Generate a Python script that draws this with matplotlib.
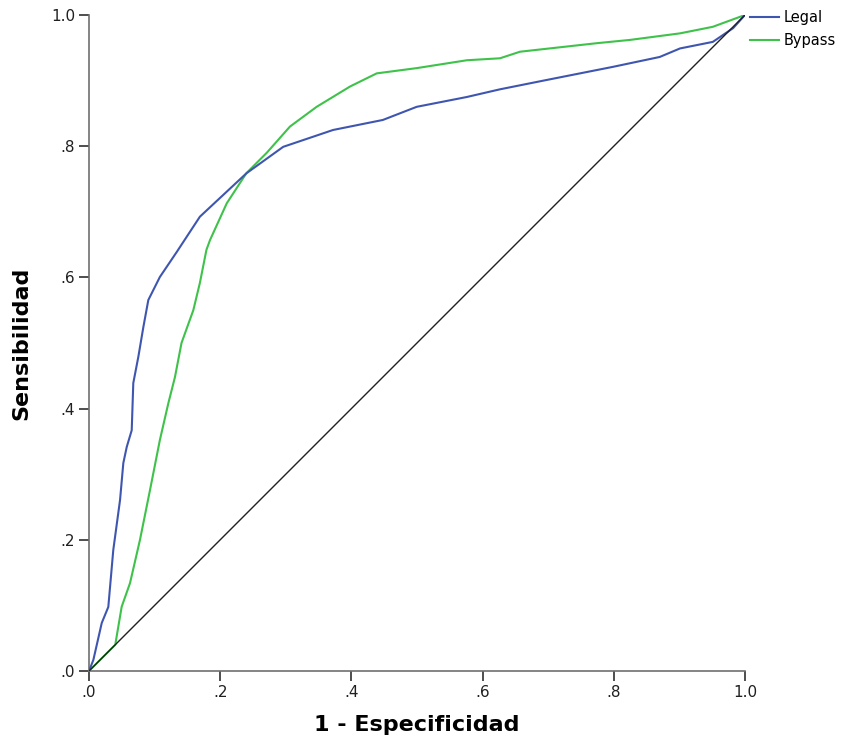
import numpy as np
import matplotlib.pyplot as plt
from matplotlib.ticker import FixedLocator

# ROC points (1 - especificidad, sensibilidad)
legal_fpr = [0.0, 0.0066, 0.0194, 0.0294, 0.037, 0.0473, 0.0523, 0.0575, 0.0651, 0.0675,
             0.0752, 0.0828, 0.0904, 0.108, 0.1337, 0.169, 0.240, 0.296, 0.372, 0.448,
             0.4995, 0.576, 0.6265, 0.698, 0.799, 0.870, 0.901, 0.951, 0.982, 1.0]
legal_tpr = [0.0, 0.0168, 0.0732, 0.0976, 0.1845, 0.2607, 0.317, 0.3415, 0.367, 0.439,
             0.479, 0.524, 0.5655, 0.6006, 0.6387, 0.6925, 0.7587, 0.799, 0.8247, 0.840,
             0.860, 0.875, 0.8867, 0.901, 0.921, 0.936, 0.949, 0.959, 0.980, 1.0]

bypass_fpr = [0.0, 0.04, 0.0498, 0.0625, 0.0777, 0.093, 0.108, 0.121, 0.131, 0.141,
              0.159, 0.169, 0.179, 0.1845, 0.210, 0.240, 0.271, 0.3064, 0.347, 0.398,
              0.4386, 0.4995, 0.576, 0.6265, 0.657, 0.774, 0.8247, 0.901, 0.951, 1.0]
bypass_tpr = [0.0, 0.04, 0.098, 0.134, 0.200, 0.276, 0.352, 0.4085, 0.448, 0.500,
              0.550, 0.5915, 0.642, 0.657, 0.713, 0.759, 0.790, 0.830, 0.860, 0.891,
              0.911, 0.919, 0.931, 0.934, 0.944, 0.957, 0.962, 0.972, 0.982, 1.0]

ticks = [0.0, 0.2, 0.4, 0.6, 0.8, 1.0]
tick_labels = ['.0', '.2', '.4', '.6', '.8', '1.0']

blue = '#3f56b0'
green = '#3ec24a'
axis_color = '#707070'

fig = plt.figure(figsize=(8.43, 7.42), dpi=100)
ax = fig.add_axes([0.1056, 0.0957, 0.7781, 0.8841])

ax.plot(legal_fpr, legal_tpr, color=blue, lw=1.5, label='Legal', zorder=3)
ax.plot(bypass_fpr, bypass_tpr, color=green, lw=1.5, label='Bypass', zorder=2)
ax.plot([0, 1], [0, 1], color='#202020', lw=1.0, zorder=4)

ax.set_xlim(0, 1)
ax.set_ylim(0, 1)
ax.xaxis.set_major_locator(FixedLocator(ticks))
ax.yaxis.set_major_locator(FixedLocator(ticks))
ax.set_xticklabels(tick_labels)
ax.set_yticklabels(tick_labels)

for side in ['top', 'right']:
  ax.spines[side].set_visible(False)
for side in ['left', 'bottom']:
  ax.spines[side].set_color(axis_color)
  ax.spines[side].set_linewidth(1.2)

ax.tick_params(axis='both', direction='out', length=7, width=1.2, color='#303030',
               labelsize=11, labelcolor='#202020', pad=3)

ax.set_xlabel('1 - Especificidad', fontsize=16, fontweight='bold', labelpad=11)
ax.set_ylabel('Sensibilidad', fontsize=16, fontweight='bold', labelpad=14)

leg = ax.legend(loc='upper left', bbox_to_anchor=(1.007, 1.008), frameon=False,
                fontsize=10.5, handlelength=2.0, handletextpad=0.35,
                labelspacing=0.55, borderaxespad=0.0, borderpad=0.0)

fig.savefig('out.png', dpi=100, facecolor='white')
